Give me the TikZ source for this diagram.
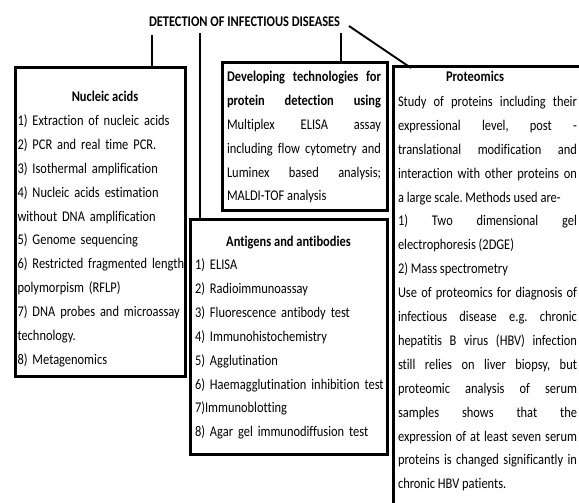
\documentclass[tikz,border=0pt]{standalone}
\usepackage{fontspec}
\setmainfont{Carlito}[FakeStretch=0.84, Ligatures=NoCommon]
\newcommand{\bodyfont}{\fontsize{14.8pt}{23.9pt}\selectfont\frenchspacing\tolerance=10000 \hyphenpenalty=10000 \exhyphenpenalty=10000 }
\begin{document}
\begin{tikzpicture}[x=1pt,y=-1pt,
  box/.style={draw=black, line width=3pt, outer sep=0pt, inner sep=0pt, anchor=north west},
  link/.style={draw=black, line width=1.9pt},
  heading/.style={anchor=base, inner sep=0pt, font=\bodyfont\bfseries},
  body/.style={anchor=base west, inner sep=0pt, outer sep=0pt, font=\bodyfont}]
\useasboundingbox (0,0) rectangle (579,503);
\clip (0,0) rectangle (579,503);

% main heading
\node[heading] (title) at (244.5,27) {DETECTION OF INFECTIOUS DISEASES};

% the four category boxes
\node[box, minimum width=170pt, minimum height=308pt] (na) at (15,68) {};
\node[box, minimum width=165pt, minimum height=147pt] (dev) at (222,63) {};
\node[box, minimum width=197pt, minimum height=235pt] (ag) at (190,219) {};
\node[box, minimum width=230pt, minimum height=460pt] (pr) at (393,67) {};

% connectors from the heading
\coordinate (t1) at (152,35);
\coordinate (t2) at (200,33);
\coordinate (t3) at (341,33);
\coordinate (t4) at (349,26);
\coordinate (p4) at (411,68);
\draw[link] (t1) -- (t1 |- na.north);
\draw[link] (t2) -- (t2 |- ag.north);
\draw[link] (t3) -- (t3 |- dev.north);
\draw[link] (t4) -- (p4);

% Nucleic acids
\node[heading] (naTitle) at (105,101.5) {Nucleic acids};
\node[body, text width=168pt, align=left] (naBody) at (17.5,125.5) {%
1) Extraction of nucleic acids\\
2) PCR and real time PCR.\\
3) Isothermal amplification\\
4) Nucleic acids estimation\\
without DNA amplification\\
5) Genome sequencing\\
6) Restricted fragmented length\\
polymorpism (RFLP)\\
7) DNA probes and microassay\\
technology.\\
8) Metagenomics};

% Developing technologies
\node[body, text width=154pt, align=justify] (devBody) at (227,81.5) {%
\textbf{Developing technologies for\linebreak protein detection using}\linebreak
Multiplex ELISA assay\linebreak including flow cytometry and\linebreak
Luminex based analysis;\linebreak MALDI-TOF analysis};

% Antigens and antibodies
\node[heading] (agTitle) at (288.5,246.5) {Antigens and antibodies};
\node[body, text width=190pt, align=left] (agBody) at (195,269.5) {%
1) ELISA\\
2) Radioimmunoassay\\
3) Fluorescence antibody test\\
4) Immunohistochemistry\\
5) Agglutination\\
6) Haemagglutination inhibition test\\
7)Immunoblotting\\
8) Agar gel immunodiffusion test};

% Proteomics
\node[heading] (prTitle) at (475,81.5) {Proteomics};
\node[body, text width=179pt, align=justify] (prBody) at (398,106.5) {%
Study of proteins including their\linebreak
expressional level, post -\linebreak
translational modification and\linebreak
interaction with other proteins on\linebreak
a large scale. Methods used are-\\
1) Two dimensional gel\linebreak
electrophoresis (2DGE)\\
2) Mass spectrometry\\
Use of proteomics for diagnosis of\linebreak
infectious disease e.g. chronic\linebreak
hepatitis B virus (HBV) infection\linebreak
still relies on liver biopsy, but\linebreak
proteomic analysis of serum\linebreak
samples shows that the\linebreak
expression of at least seven serum\linebreak
proteins is changed significantly in\linebreak
chronic HBV patients.};
\end{tikzpicture}
\end{document}
